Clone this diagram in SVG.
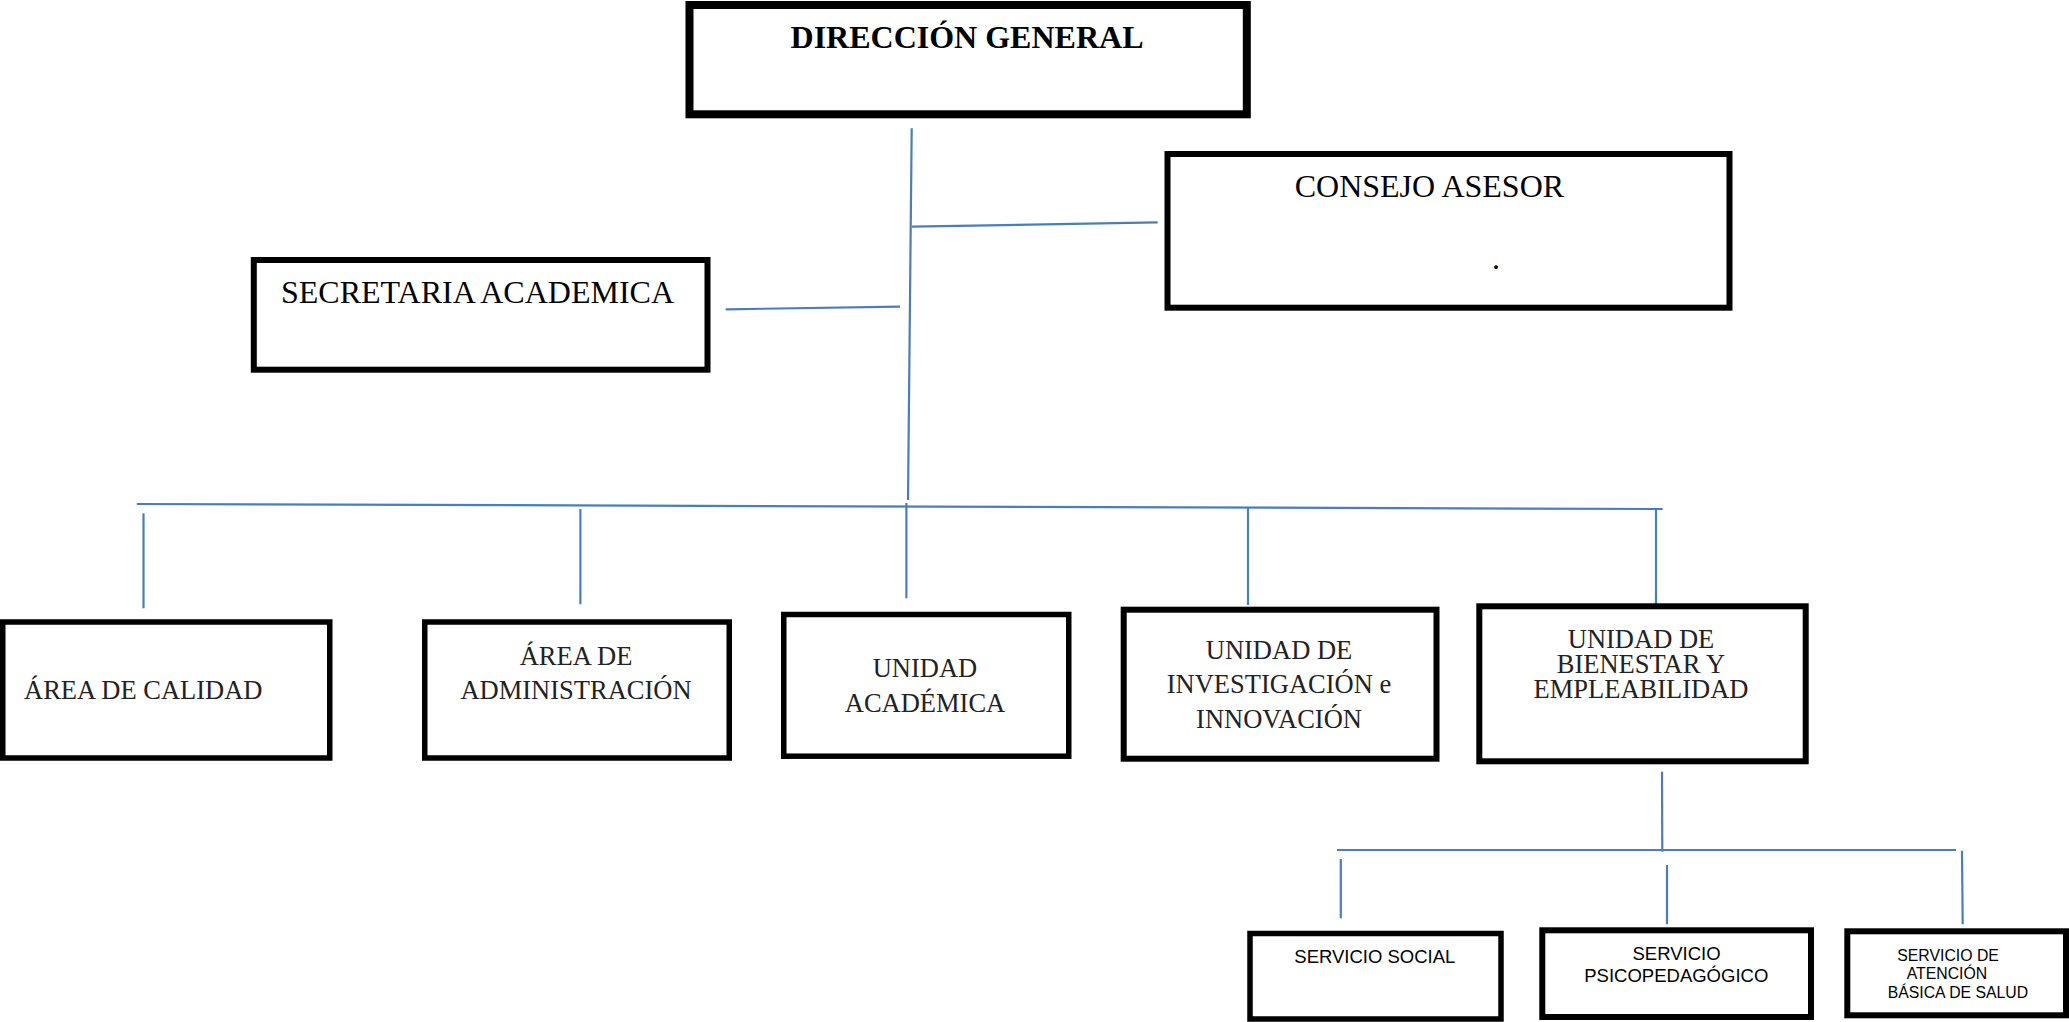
<svg xmlns="http://www.w3.org/2000/svg" width="2069" height="1022" viewBox="0 0 2069 1022">
<style>
.box{fill:#fff;stroke:#000}
.t32{font-family:"Liberation Serif","Times New Roman",serif;font-size:32px;fill:#000}
.t26{font-family:"Liberation Serif","Times New Roman",serif;font-size:26.5px;fill:#222;text-anchor:middle}
.ts{font-family:"Liberation Sans",Arial,sans-serif;fill:#000}
.c line{stroke:#4a7ebb;stroke-width:2.2;fill:none}
</style>
<rect width="2069" height="1022" fill="#fff"/>
<g class="c" id="connectors">
<line x1="911.7" y1="128.3" x2="908" y2="500"/>
<line x1="912" y1="226.7" x2="1157.7" y2="222.3"/>
<line x1="725.7" y1="309.3" x2="900" y2="306.7"/>
<line x1="136.8" y1="504" x2="1662.7" y2="509"/>
<line x1="143.5" y1="513.3" x2="143.5" y2="608.3"/>
<line x1="580.4" y1="509" x2="580.4" y2="604.3"/>
<line x1="906.4" y1="503" x2="906.4" y2="598.3"/>
<line x1="1248" y1="508" x2="1248" y2="605"/>
<line x1="1656" y1="509" x2="1656" y2="604"/>
<line x1="1662" y1="771.7" x2="1662.3" y2="851.7"/>
<line x1="1337" y1="850" x2="1956" y2="850"/>
<line x1="1340.8" y1="859" x2="1340.8" y2="918.3"/>
<line x1="1667" y1="865" x2="1667" y2="924.3"/>
<line x1="1962" y1="850.7" x2="1962.7" y2="924.3"/>
</g>
<g id="direccion">
<rect class="box" x="689.5" y="5" width="557.3" height="109.3" stroke-width="8"/>
<text class="t32" x="967" y="48" text-anchor="middle" font-weight="bold">DIRECCIÓN GENERAL</text>
</g>
<g id="consejo">
<rect class="box" x="1167.5" y="154" width="562" height="153.7" stroke-width="6"/>
<text class="t32" x="1294.7" y="196.7">CONSEJO ASESOR</text>
<text class="t32" x="1492" y="269">.</text>
</g>
<g id="secretaria">
<rect class="box" x="253.8" y="260" width="453.7" height="109.7" stroke-width="6"/>
<text class="t32" x="281" y="303">SECRETARIA ACADEMICA</text>
</g>
<g id="calidad">
<rect class="box" x="2.75" y="622" width="327" height="136" stroke-width="5.5"/>
<text class="t26" x="24" y="699.3" text-anchor="start" style="text-anchor:start">ÁREA DE CALIDAD</text>
</g>
<g id="administracion">
<rect class="box" x="424.75" y="622" width="304.5" height="136" stroke-width="5.5"/>
<text class="t26" x="576" y="665">ÁREA DE</text>
<text class="t26" x="576" y="699.3">ADMINISTRACIÓN</text>
</g>
<g id="academica">
<rect class="box" x="783.75" y="614.5" width="285" height="141.7" stroke-width="5.5"/>
<text class="t26" x="925" y="676.7">UNIDAD</text>
<text class="t26" x="925" y="711.7">ACADÉMICA</text>
</g>
<g id="investigacion">
<rect class="box" x="1123.7" y="609.7" width="312.8" height="149" stroke-width="6"/>
<text class="t26" x="1279" y="659.3">UNIDAD DE</text>
<text class="t26" x="1279" y="692.7">INVESTIGACIÓN e</text>
<text class="t26" x="1279" y="728.3">INNOVACIÓN</text>
</g>
<g id="bienestar">
<rect class="box" x="1479.3" y="606.3" width="326.4" height="155" stroke-width="6"/>
<text class="t26" x="1641" y="648.3">UNIDAD DE</text>
<text class="t26" x="1641" y="673.3">BIENESTAR Y</text>
<text class="t26" x="1641" y="698.3">EMPLEABILIDAD</text>
</g>
<g id="social">
<rect class="box" x="1250" y="933.5" width="251" height="85.5" stroke-width="5.5"/>
<text class="ts" x="1294.3" y="963.3" font-size="18.5">SERVICIO SOCIAL</text>
</g>
<g id="psicopedagogico">
<rect class="box" x="1542.3" y="930.3" width="268.7" height="86.7" stroke-width="6"/>
<text class="ts" x="1676.5" y="960" font-size="18.5" text-anchor="middle">SERVICIO</text>
<text class="ts" x="1676.3" y="981.7" font-size="18.5" text-anchor="middle">PSICOPEDAGÓGICO</text>
</g>
<g id="salud">
<rect class="box" x="1847.3" y="931.3" width="218.7" height="84" stroke-width="6"/>
<text class="ts" x="1897.3" y="961" font-size="15.8">SERVICIO DE</text>
<text class="ts" x="1906.7" y="979.3" font-size="15.8">ATENCIÓN</text>
<text class="ts" x="1887.7" y="998.3" font-size="15.8">BÁSICA DE SALUD</text>
</g>
</svg>
